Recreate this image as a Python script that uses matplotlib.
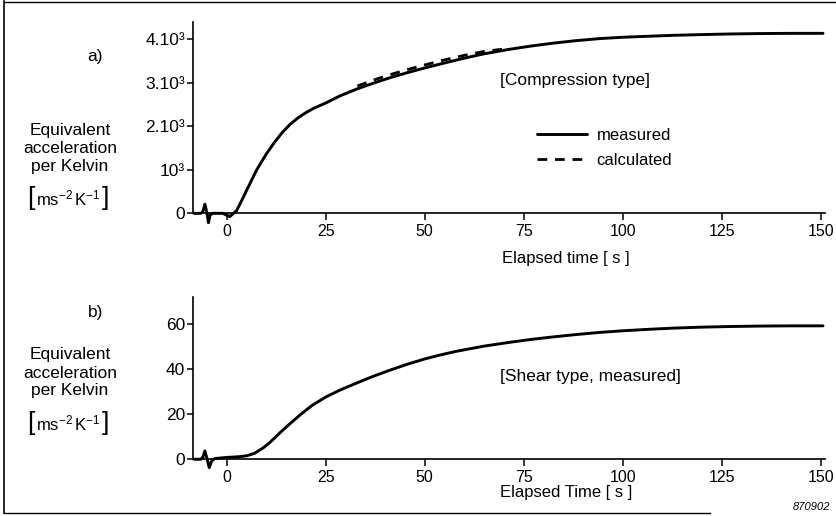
import matplotlib
matplotlib.use("Agg")
import matplotlib.pyplot as plt
from matplotlib.lines import Line2D

plt.rcParams['font.family'] = ['Liberation Sans', 'DejaVu Sans']
plt.rcParams['mathtext.fontset'] = 'custom'
plt.rcParams['mathtext.rm'] = 'Liberation Sans'
plt.rcParams['mathtext.it'] = 'Liberation Sans'

# ---- data (a) compression type ----
t_a = [-9, -6.5, -6.0, -5.5, -5.0, -4.6, -4.2, -3.5, -1.0, 0.0, 0.8, 1.7, 2.5, 4.0, 5.0,
       7.6, 10.0, 12.0, 14.0, 16.0, 18.0, 20.0, 22.0, 25.0, 28.5, 32.8, 37.0, 41.2,
       45.5, 50.0, 55.0, 60.0, 65.0, 71.5, 77.0, 82.0, 88.0, 94.3, 100.0, 107.0,
       113.0, 119.5, 127.0, 135.0, 143.0, 150.6]
y_a_meas = [0, 0, 40, 210, 20, -215, -40, 0, 0, -40, -75, 0, 60, 330, 520,
            1000, 1360, 1620, 1850, 2040, 2190, 2310, 2410, 2530, 2690, 2850, 2985, 3110,
            3225, 3335, 3450, 3560, 3660, 3765, 3840, 3900, 3960, 4010, 4040, 4065,
            4085, 4100, 4115, 4125, 4130, 4130]
t_a_calc = [33.0, 37.0, 41.2, 45.5, 50.0, 55.0, 60.0, 65.0, 70.0]
y_a_calc = [2920, 3055, 3180, 3295, 3405, 3520, 3625, 3715, 3770]

# ---- data (b) shear type ----
t_b = [-9, -6.5, -6.0, -5.5, -5.0, -4.4, -3.8, -3.0, 0.0, 3.0, 5.0, 7.0, 9.2, 11.0,
       13.5, 16.0, 18.5, 21.5, 25.0, 28.5, 32.8, 37.0, 41.2, 45.5, 50.0, 54.0, 58.0,
       65.0, 71.5, 77.0, 82.0, 88.0, 94.3, 100.0, 107.0, 113.0, 119.5, 127.0, 135.0,
       143.0, 150.6]
y_b = [0, 0, 1.0, 3.7, 0.5, -3.7, -0.8, 0.3, 0.8, 1.1, 1.5, 2.6, 5.0, 7.6,
       11.8, 15.8, 19.6, 23.8, 27.6, 30.6, 33.8, 36.8, 39.5, 42.1, 44.5, 46.3, 47.9,
       50.2, 51.9, 53.2, 54.2, 55.3, 56.3, 57.0, 57.7, 58.2, 58.6, 58.9, 59.1,
       59.2, 59.2]

xticks = [0, 25, 50, 75, 100, 125, 150]
yticks_a = [0, 1000, 2000, 3000, 4000]
yticklabels_a = ['0', '10³', '2.10³', '3.10³', '4.10³']
yticks_b = [0, 20, 40, 60]
yticklabels_b = ['0', '20', '40', '60']

W, H = 836, 516
fig = plt.figure(figsize=(W / 100, H / 100), dpi=100)

def fx(px):
    return px / W

def fy(py):
    return 1 - py / H

ax_a = fig.add_axes([fx(193), fy(226.4), fx(825) - fx(193), fy(22) - fy(226.4)])
ax_b = fig.add_axes([fx(193), fy(470.5), fx(825) - fx(193), fy(297) - fy(470.5)])

for ax in (ax_a, ax_b):
    ax.set_facecolor('none')
    ax.spines['top'].set_visible(False)
    ax.spines['right'].set_visible(False)
    ax.spines['bottom'].set_position(('data', 0))
    ax.spines['bottom'].set_linewidth(1.2)
    ax.spines['left'].set_linewidth(1.2)
    ax.tick_params(axis='x', direction='out', length=5, width=1.1, labelsize=11.5,
                   colors='black', pad=2.5)
    ax.tick_params(axis='y', direction='out', length=4, width=1.1, labelsize=12.5,
                   colors='black', pad=1.5)
    ax.set_xlim(-8.5, 151.1)
    ax.set_xticks(xticks)
    ax.set_xticklabels([str(v) for v in xticks])

ax_a.plot(t_a, y_a_meas, color='black', lw=2.1, solid_capstyle='round', label='measured')
ax_a.plot(t_a_calc, y_a_calc, color='black', lw=2.0, dashes=(3.5, 2.8), label='calculated')
ax_a.set_ylim(-300, 4390)
ax_a.spines['left'].set_bounds(0, 4390)
ax_a.set_yticks(yticks_a)
ax_a.set_yticklabels(yticklabels_a)

ax_b.plot(t_b, y_b, color='black', lw=2.1, solid_capstyle='round')
ax_b.set_ylim(-5, 72)
ax_b.spines['left'].set_bounds(0, 72)
ax_b.set_yticks(yticks_b)
ax_b.set_yticklabels(yticklabels_b)

leg = ax_a.legend(loc='center left', bbox_to_anchor=(fx(529), fy(148)),
                  bbox_transform=fig.transFigure, frameon=False, fontsize=12,
                  handlelength=3.0, handletextpad=0.55, labelspacing=0.6, borderpad=0)

fs = 12.5
# panel labels
fig.text(fx(95), fy(57), 'a)', ha='center', va='center', fontsize=fs)
fig.text(fx(96), fy(313), 'b)', ha='center', va='center', fontsize=fs)
unit = r'$\mathrm{ms^{-2}\,K^{-1}}$'
for y0 in (130, 355):
    fig.text(fx(70), fy(y0), 'Equivalent', ha='center', va='center', fontsize=fs)
    fig.text(fx(70), fy(y0 + 18), 'acceleration', ha='center', va='center', fontsize=fs)
    fig.text(fx(70), fy(y0 + 36), 'per Kelvin', ha='center', va='center', fontsize=fs)
    fig.text(fx(68), fy(y0 + 68), unit, ha='center', va='center', fontsize=12)
    fig.text(fx(31), fy(y0 + 68), '[', ha='center', va='center', fontsize=19,
             fontweight='light')
    fig.text(fx(105), fy(y0 + 68), ']', ha='center', va='center', fontsize=19,
             fontweight='light')

fig.text(fx(566), fy(258), 'Elapsed time [ s ]', ha='center', va='center', fontsize=12)
fig.text(fx(566), fy(493), 'Elapsed Time [ s ]', ha='center', va='center', fontsize=12)
fig.text(fx(500), fy(80), '[Compression type]', ha='left', va='center', fontsize=fs)
fig.text(fx(500), fy(377), '[Shear type, measured]', ha='left', va='center', fontsize=fs)
fig.text(fx(830), fy(507), '870902', ha='right', va='center', fontsize=8, style='italic')

# frame lines
fig.add_artist(Line2D([fx(4), fx(4)], [fy(1), fy(513)], color='black', lw=1.2))
fig.add_artist(Line2D([fx(4), fx(836)], [fy(1.5), fy(1.5)], color='black', lw=1.0))
fig.add_artist(Line2D([fx(4), fx(710)], [fy(513), fy(513)], color='black', lw=1.0))

fig.savefig('out.png', dpi=100)
